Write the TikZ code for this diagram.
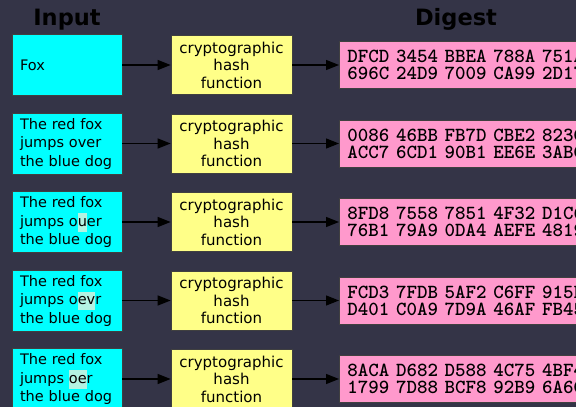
\documentclass[tikz,border=0pt]{standalone}
\usepackage{fontspec}
\setmainfont{DejaVu Sans}
\usetikzlibrary{arrows.meta}
\definecolor{backdrop}{HTML}{343447}
\definecolor{inputcyan}{HTML}{00FFFF}
\definecolor{hashyellow}{HTML}{FFFF88}
\definecolor{digestpink}{HTML}{FF99CC}
\definecolor{changemark}{HTML}{B4F2E2}
\newcommand{\changed}[1]{{\setlength{\fboxsep}{0pt}\colorbox{changemark}{\strut #1}}}

\begin{document}
\begin{tikzpicture}[x=1pt,y=-1pt,
	inbox/.style={draw=black!75, line width=0.8pt, fill=inputcyan, minimum width=110pt, minimum height=61pt,
		text width=94pt, inner xsep=8pt, align=left, font=\fontsize{14.5}{18.5}\selectfont},
	hashbox/.style={draw=black!75, line width=0.8pt, fill=hashyellow, minimum width=121pt, minimum height=59pt,
		align=center, font=\fontsize{15}{17.5}\selectfont},
	digestbox/.style={draw=black!75, line width=0.8pt, fill=digestpink, minimum width=300pt, minimum height=47pt,
		anchor=west, text width=284pt, inner xsep=8pt, align=left, font=\ttfamily\bfseries\fontsize{20}{17}\selectfont},
	heading/.style={anchor=base, font=\bfseries\fontsize{22.5}{27}\selectfont},
	flow/.style={-{Triangle[length=13pt,width=10pt]}, line width=1.3pt, black}]
	\useasboundingbox (0,0) rectangle (576,407);
	\clip (0,0) rectangle (576,407);
	\fill[backdrop] (0,0) rectangle (576,407);
	% column headings
	\node (inhead) at (67, 25)	[heading]	{Input};
	\node (dighead) at (456, 25)	[heading]	{Digest};
	% inputs
	\node (in1) at (67,  65)	[inbox]	{Fox};
	\node (in2) at (67, 143.5)	[inbox]	{The red fox\\jumps over\\the blue dog};
	\node (in3) at (67, 222)	[inbox]	{The red fox\\jumps o\changed{u}er\\the blue dog};
	\node (in4) at (67, 300.5)	[inbox]	{The red fox\\jumps o\changed{ev}r\\the blue dog};
	\node (in5) at (67, 379)	[inbox]	{The red fox\\jumps \changed{oe}r\\the blue dog};
	% hash functions
	\node (hash1) at (231.5,  65)	[hashbox]	{cryptographic\\hash\\function};
	\node (hash2) at (231.5, 143.5)	[hashbox]	{cryptographic\\hash\\function};
	\node (hash3) at (231.5, 222)	[hashbox]	{cryptographic\\hash\\function};
	\node (hash4) at (231.5, 300.5)	[hashbox]	{cryptographic\\hash\\function};
	\node (hash5) at (231.5, 379)	[hashbox]	{cryptographic\\hash\\function};
	% digests
	\node (dig1) at (339,  65)	[digestbox]	{DFCD 3454 BBEA 788A 751A\\696C 24D9 7009 CA99 2D17};
	\node (dig2) at (339, 143.5)	[digestbox]	{0086 46BB FB7D CBE2 823C\\ACC7 6CD1 90B1 EE6E 3ABC};
	\node (dig3) at (339, 222)	[digestbox]	{8FD8 7558 7851 4F32 D1C6\\76B1 79A9 0DA4 AEFE 4819};
	\node (dig4) at (339, 300.5)	[digestbox]	{FCD3 7FDB 5AF2 C6FF 915F\\D401 C0A9 7D9A 46AF FB45};
	\node (dig5) at (339, 379)	[digestbox]	{8ACA D682 D588 4C75 4BF4\\1799 7D88 BCF8 92B9 6A6C};
	\draw[flow] (in1) -- (hash1);
	\draw[flow] (in2) -- (hash2);
	\draw[flow] (in3) -- (hash3);
	\draw[flow] (in4) -- (hash4);
	\draw[flow] (in5) -- (hash5);
	\draw[flow] (hash1) -- (dig1);
	\draw[flow] (hash2) -- (dig2);
	\draw[flow] (hash3) -- (dig3);
	\draw[flow] (hash4) -- (dig4);
	\draw[flow] (hash5) -- (dig5);
\end{tikzpicture}
\end{document}
